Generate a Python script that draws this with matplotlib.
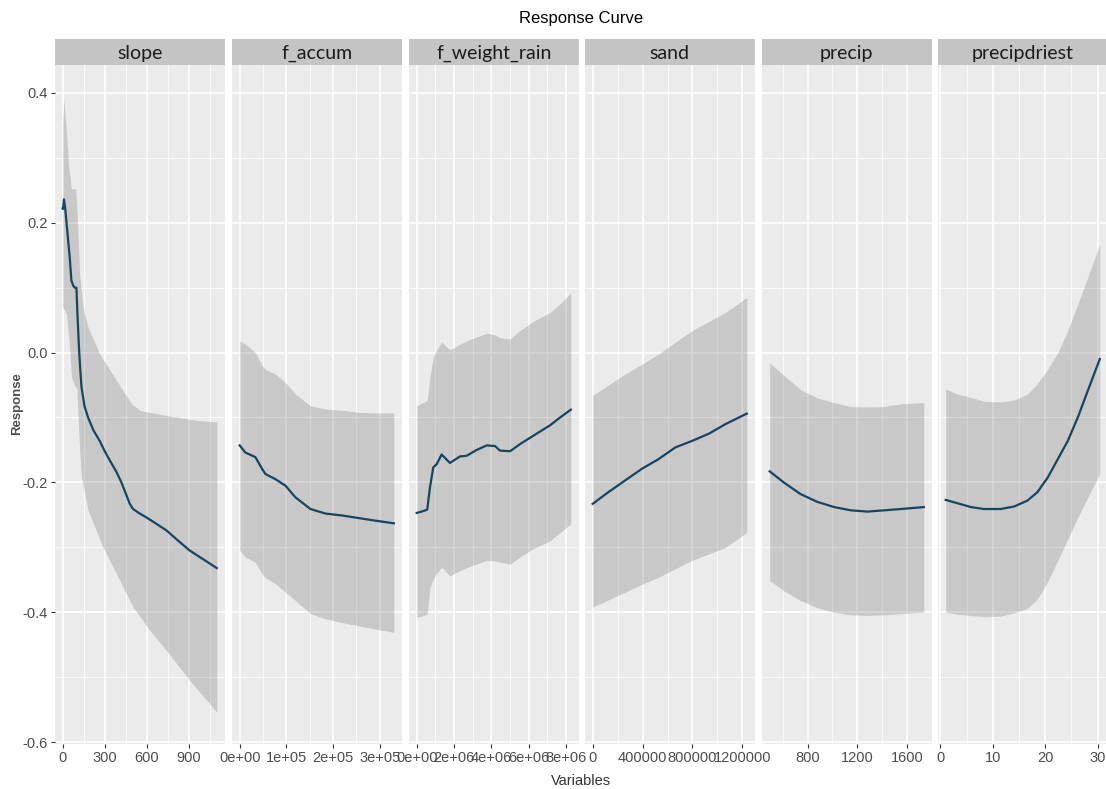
import numpy as np
import matplotlib
matplotlib.use("Agg")
import matplotlib.pyplot as plt
from matplotlib import font_manager

plt.rcParams['axes.unicode_minus'] = False

# ---- data ----
variables = ['slope', 'f_accum', 'f_weight_rain', 'sand', 'precip', 'precipdriest']

slope_x = [0, 2, 9, 18, 26, 38, 50, 62, 75, 86, 98, 105, 116, 125, 134, 155, 181, 220, 264, 300,
           336, 384, 419, 479, 502, 550, 598, 670, 741, 820, 907, 1000, 1100]
slope_y = [0.222, 0.221, 0.236, 0.222, 0.203, 0.175, 0.147, 0.111, 0.103, 0.100, 0.100, 0.060,
           0.008, -0.025, -0.053, -0.082, -0.100, -0.120, -0.136, -0.152, -0.166, -0.184, -0.200,
           -0.233, -0.241, -0.248, -0.254, -0.264, -0.274, -0.289, -0.305, -0.318, -0.332]
slope_up_x = [0, 9, 26, 43, 62, 93, 103, 121, 145, 181, 264, 384, 491, 550, 741, 980, 1100]
slope_up = [0.350, 0.391, 0.342, 0.286, 0.252, 0.252, 0.214, 0.122, 0.070, 0.039, -0.002, -0.043,
            -0.079, -0.089, -0.097, -0.105, -0.107]
slope_lo_x = [0, 26, 50, 62, 86, 102, 110, 121, 134, 181, 288, 384, 502, 622, 741, 907, 1100]
slope_lo = [0.070, 0.060, 0.008, -0.038, -0.051, -0.055, -0.100, -0.151, -0.192, -0.243, -0.300,
            -0.341, -0.392, -0.428, -0.459, -0.505, -0.554]

accum_x = [0, 12000, 33500, 47900, 55000, 76400, 97900, 119300, 151500, 183700, 219500, 255200, 291000, 330000]
accum_y = [-0.143, -0.154, -0.161, -0.179, -0.187, -0.195, -0.205, -0.223, -0.241, -0.248, -0.251,
           -0.255, -0.259, -0.263]
accum_up = [0.018, 0.013, 0.000, -0.020, -0.026, -0.033, -0.046, -0.064, -0.082, -0.087, -0.089,
            -0.092, -0.093, -0.093]
accum_lo = [-0.305, -0.315, -0.323, -0.341, -0.347, -0.356, -0.369, -0.382, -0.402, -0.410, -0.416,
            -0.421, -0.426, -0.431]

rain_x = [0, 263000, 563000, 708000, 885000, 1067000, 1335000, 1780000, 2316000, 2676000, 3212000,
          3748000, 4193000, 4461000, 4997000, 5534000, 6247000, 7142000, 7678000, 8250000]
rain_y = [-0.247, -0.245, -0.242, -0.208, -0.177, -0.172, -0.157, -0.170, -0.160, -0.159, -0.150,
          -0.143, -0.144, -0.151, -0.152, -0.141, -0.128, -0.112, -0.100, -0.088]
rain_up = [-0.082, -0.078, -0.074, -0.038, -0.007, 0.004, 0.016, 0.004, 0.013, 0.018, 0.024,
           0.030, 0.027, 0.023, 0.021, 0.034, 0.048, 0.062, 0.075, 0.092]
rain_lo = [-0.408, -0.406, -0.403, -0.362, -0.349, -0.340, -0.331, -0.344, -0.336, -0.331, -0.326,
           -0.320, -0.321, -0.323, -0.326, -0.315, -0.302, -0.290, -0.277, -0.264]

sand_x = [0, 125800, 260000, 395000, 529000, 664000, 798000, 932000, 1067000, 1236000]
sand_y = [-0.233, -0.215, -0.197, -0.179, -0.164, -0.146, -0.136, -0.125, -0.110, -0.094]
sand_up = [-0.066, -0.050, -0.033, -0.018, -0.002, 0.016, 0.034, 0.048, 0.062, 0.085]
sand_lo = [-0.392, -0.381, -0.369, -0.357, -0.346, -0.333, -0.320, -0.310, -0.300, -0.277]

precip_x = [495, 608, 743, 878, 1013, 1147, 1282, 1417, 1552, 1735]
precip_y = [-0.183, -0.200, -0.218, -0.230, -0.238, -0.243, -0.245, -0.243, -0.241, -0.238]
precip_up = [-0.016, -0.035, -0.057, -0.070, -0.077, -0.083, -0.084, -0.083, -0.079, -0.077]
precip_lo = [-0.351, -0.367, -0.382, -0.393, -0.400, -0.404, -0.405, -0.404, -0.402, -0.400]

dry_x = [1, 3.2, 5.8, 8.3, 11.5, 14.1, 16.6, 18.5, 20.5, 22.4, 24.3, 26.2, 28.1, 30.4]
dry_y = [-0.227, -0.232, -0.238, -0.241, -0.241, -0.237, -0.228, -0.215, -0.192, -0.164, -0.136,
         -0.100, -0.059, -0.010]
dry_up = [-0.056, -0.064, -0.069, -0.075, -0.076, -0.073, -0.064, -0.048, -0.025, 0.000, 0.034,
          0.075, 0.116, 0.167]
dry_lo = [-0.400, -0.403, -0.405, -0.407, -0.406, -0.401, -0.394, -0.380, -0.352, -0.320, -0.287,
          -0.254, -0.223, -0.187]

x_breaks = {
    'slope': [0, 300, 600, 900],
    'f_accum': [0, 100000, 200000, 300000],
    'f_weight_rain': [0, 2000000, 4000000, 6000000, 8000000],
    'sand': [0, 400000, 800000, 1200000],
    'precip': [800, 1200, 1600],
    'precipdriest': [0, 10, 20, 30],
}
x_labels = {
    'slope': ['0', '300', '600', '900'],
    'f_accum': ['0e+00', '1e+05', '2e+05', '3e+05'],
    'f_weight_rain': ['0e+00', '2e+06', '4e+06', '6e+06', '8e+06'],
    'sand': ['0', '400000', '800000', '1200000'],
    'precip': ['800', '1200', '1600'],
    'precipdriest': ['0', '10', '20', '30'],
}
y_breaks = [-0.6, -0.4, -0.2, 0.0, 0.2, 0.4]
y_labels = ['-0.6', '-0.4', '-0.2', '0.0', '0.2', '0.4']

curves = {
    'slope': (slope_x, slope_y, slope_up_x, slope_up, slope_lo_x, slope_lo),
    'f_accum': (accum_x, accum_y, accum_x, accum_up, accum_x, accum_lo),
    'f_weight_rain': (rain_x, rain_y, rain_x, rain_up, rain_x, rain_lo),
    'sand': (sand_x, sand_y, sand_x, sand_up, sand_x, sand_lo),
    'precip': (precip_x, precip_y, precip_x, precip_up, precip_x, precip_lo),
    'precipdriest': (dry_x, dry_y, dry_x, dry_up, dry_x, dry_lo),
}

# ---- layout (pixels) ----
W, H = 1106, 789
panel_left = [55, 232, 409, 585, 762, 938]
panel_w = 169.5
panel_top, panel_bot = 65, 744
strip_top = 39

installed = {f.name for f in font_manager.fontManager.ttflist}
narrow = [f for f in ['Liberation Sans Narrow', 'Liberation Sans', 'DejaVu Sans'] if f in installed]
tick_col = '#4D4D4D'

fig = plt.figure(figsize=(W / 100, H / 100), dpi=100)

for i, name in enumerate(variables):
    left = panel_left[i]
    ax = fig.add_axes([left / W, (H - panel_bot) / H, panel_w / W, (panel_bot - panel_top) / H])
    ax.set_facecolor('#EBEBEB')
    for s in ax.spines.values():
        s.set_visible(False)

    lx, ly, ux, uy, dx, dy = curves[name]
    bx = np.unique(np.concatenate([ux, dx]))
    up = np.interp(bx, ux, uy)
    lo = np.interp(bx, dx, dy)
    ax.fill_between(bx, lo, up, color='black', alpha=0.15, linewidth=0, zorder=2)
    ax.plot(lx, ly, color='#17445F', lw=1.6, zorder=3, solid_joinstyle='round')

    xmin = min(min(lx), min(bx))
    xmax = max(max(lx), max(bx))
    pad = 0.05 * (xmax - xmin)

    br = x_breaks[name]
    step = br[1] - br[0]
    minors = [b + step / 2 for b in br] + [br[0] - step / 2]
    ax.set_xticks(br)
    ax.set_xticklabels(x_labels[name])
    ax.set_xticks(minors, minor=True)
    ax.set_yticks(y_breaks)
    ax.set_yticks([-0.5, -0.3, -0.1, 0.1, 0.3], minor=True)
    ax.set_xlim(xmin - pad, xmax + pad)
    ax.set_ylim(-0.603, 0.443)

    ax.grid(which='major', color='white', lw=1.1, zorder=1)
    ax.grid(which='minor', color='white', lw=0.55, zorder=1)
    ax.set_axisbelow(True)
    ax.tick_params(which='minor', length=0)
    ax.tick_params(axis='x', which='major', length=3, width=0.8, color='#333333',
                   labelcolor=tick_col, labelsize=10.5, pad=2)
    for t in ax.get_xticklabels():
        t.set_family(narrow)
    if i == 0:
        ax.set_yticklabels(y_labels)
        ax.tick_params(axis='y', which='major', length=3, width=0.8, color='#333333',
                       labelcolor=tick_col, labelsize=10.5, pad=2)
        for t in ax.get_yticklabels():
            t.set_family(narrow)
    else:
        ax.tick_params(axis='y', which='major', length=0, labelleft=False)

    # facet strip
    sx = fig.add_axes([left / W, (H - panel_top) / H, panel_w / W, (panel_top - strip_top) / H])
    sx.set_facecolor('#C4C4C4')
    sx.set_xticks([])
    sx.set_yticks([])
    for s in sx.spines.values():
        s.set_visible(False)
    sx.text(0.5, 0.46, name, ha='center', va='center', fontsize=14, family='Lato',
            color='#1A1A1A', transform=sx.transAxes)

mid = (panel_left[0] + panel_left[-1] + panel_w) / 2
fig.text(mid / W, 1 - 18 / H, 'Response Curve', ha='center', va='center',
         fontsize=12, family=narrow, color='black')
fig.text(mid / W, 1 - 781 / H, 'Variables', ha='center', va='center',
         fontsize=10.5, family=narrow, color='#333333')
fig.text(17 / W, 1 - 404 / H, 'Response', ha='center', va='center', rotation=90,
         fontsize=9.5, family=narrow, fontweight='bold', color='#4D4D4D')

fig.savefig('out.png', dpi=100)
